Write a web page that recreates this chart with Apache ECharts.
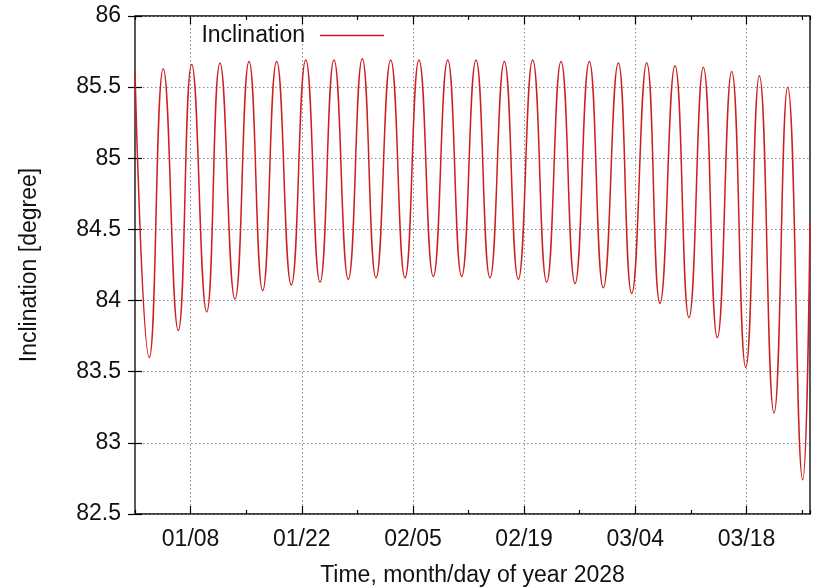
<!DOCTYPE html>
<html>
<head>
<meta charset="utf-8">
<script src="https://cdn.jsdelivr.net/npm/echarts@6/dist/echarts.min.js"></script>
<style>
  html, body { margin: 0; padding: 0; background: #fff; }
  #chart { width: 816px; height: 587px; }
</style>
</head>
<body>
<div id="chart"></div>
<script>
// Days since 2028-01-01 00:00 (x) and inclination in degrees (y)
const days = [
  0.00, 1.80, 3.56, 5.45, 7.14, 9.03, 10.70, 12.59, 14.36, 16.08,
  17.84, 19.68, 21.50, 23.30, 25.06, 26.86, 28.62, 30.35, 32.20, 34.00,
  35.76, 37.56, 39.38, 41.14, 42.94, 44.70, 46.51, 48.27, 50.08, 51.84,
  53.65, 55.41, 57.21, 58.97, 60.86, 62.55, 64.44, 66.11, 68.00, 69.76,
  71.57, 73.33, 75.14, 76.91, 78.62, 80.47, 82.19, 84.08, 85.00
];
const inclination = [
  85.60, 83.60, 85.63, 83.79, 85.66, 83.92, 85.67, 84.01, 85.68, 84.07,
  85.68, 84.11, 85.69, 84.13, 85.69, 84.15, 85.70, 84.16, 85.69, 84.16,
  85.69, 84.17, 85.69, 84.17, 85.69, 84.16, 85.68, 84.15, 85.69, 84.13,
  85.68, 84.12, 85.68, 84.09, 85.67, 84.05, 85.67, 83.98, 85.65, 83.88,
  85.64, 83.74, 85.61, 83.53, 85.58, 83.21, 85.50, 82.74, 84.55
];
// Labelled tick positions (days since Jan 1) and their labels
const labelDays = [7, 21, 35, 49, 63, 77];
const labelTexts = ['01/08', '01/22', '02/05', '02/19', '03/04', '03/18'];
const xMin = 0, xMax = 85;
const yMin = 82.5, yMax = 86, yStep = 0.5;

const FONT = "'Liberation Sans', Arial, Helvetica, sans-serif";
const TXT = '#111';
const RED = '#cc1f1f';
const gridLine = { show: true, lineStyle: { color: '#8a8a8a', width: 1, type: [1.5, 2.5] } };

function xAxisCfg(pos, main) {
  return {
    type: 'value', position: pos, min: xMin, max: xMax, interval: 14,
    axisLine: { show: false },
    axisTick: { show: true, inside: true, length: 4, lineStyle: { color: '#000', width: 1.2 } },
    minorTick: { show: true, splitNumber: 2, length: 8, lineStyle: { color: '#000', width: 1.2 } },
    minorSplitLine: main ? gridLine : { show: false },
    splitLine: { show: false },
    axisLabel: main ? {
      show: true, customValues: labelDays, margin: 14,
      fontFamily: FONT, fontSize: 23, color: TXT,
      formatter: v => { const i = labelDays.indexOf(Math.round(v)); return i >= 0 ? labelTexts[i] : ''; }
    } : { show: false },
    name: main ? 'Time, month/day of year 2028' : '',
    nameLocation: 'middle', nameGap: 50,
    nameTextStyle: { fontFamily: FONT, fontSize: 23, color: TXT }
  };
}
function yAxisCfg(pos, main) {
  return {
    type: 'value', position: pos, min: yMin, max: yMax, interval: yStep,
    axisLine: { show: false },
    axisTick: { show: true, inside: true, length: 7, lineStyle: { color: '#000', width: 1.2 } },
    splitLine: main ? gridLine : { show: false },
    axisLabel: main ? { show: true, margin: 14, fontFamily: FONT, fontSize: 23, color: TXT } : { show: false },
    name: main ? 'Inclination [degree]' : '',
    nameLocation: 'middle', nameGap: 94, nameRotate: 90,
    nameTextStyle: { fontFamily: FONT, fontSize: 23, color: TXT }
  };
}

const chart = echarts.init(document.getElementById('chart'), null, { renderer: 'canvas' });
chart.setOption({
  animation: false,
  backgroundColor: '#fff',
  grid: {
    left: 135, right: 6, top: 16, bottom: 73, containLabel: false, outerBoundsMode: 'none',
    show: true, borderColor: '#000', borderWidth: 1.3, backgroundColor: 'transparent'
  },
  legend: {
    data: ['Inclination'], right: 432, top: 24, padding: 0, align: 'right',
    icon: 'rect', itemWidth: 64, itemHeight: 1.5,
    textStyle: { fontFamily: FONT, fontSize: 23, color: TXT, padding: [0, 10, 0, 0] }
  },
  xAxis: [xAxisCfg('bottom', true), xAxisCfg('top', false)],
  yAxis: [yAxisCfg('left', true), yAxisCfg('right', false)],
  series: [{
    name: 'Inclination', type: 'line', xAxisIndex: 0, yAxisIndex: 0,
    data: days.map((d, i) => [d, inclination[i]]),
    smooth: 0.5, showSymbol: false, clip: true,
    lineStyle: { color: RED, width: 1.5 }, itemStyle: { color: RED }
  }]
});
</script>
</body>
</html>
